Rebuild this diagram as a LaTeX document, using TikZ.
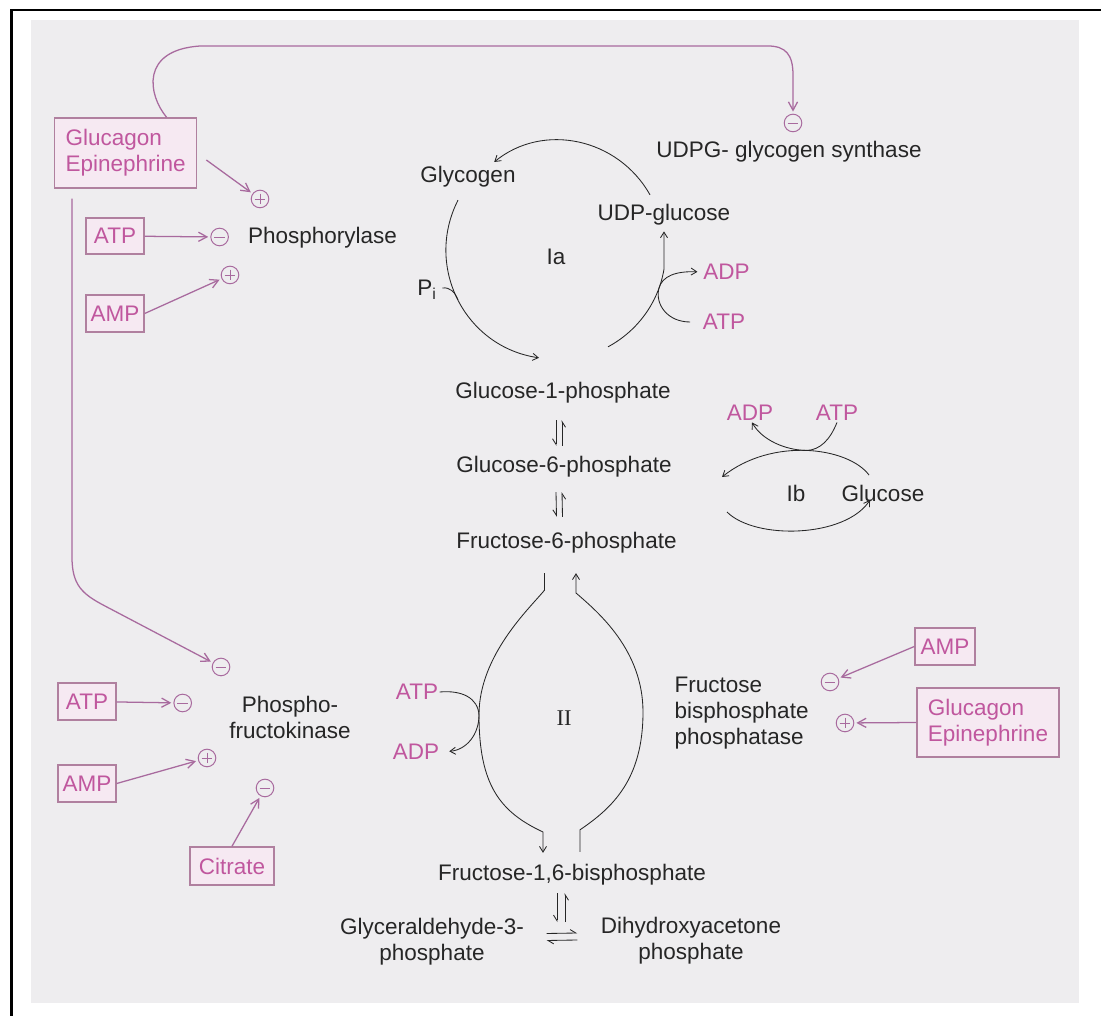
\documentclass[tikz,border=0pt]{standalone}
\usepackage{fontspec}
\setmainfont{Liberation Sans}
\newfontfamily\romfont{Liberation Serif}
\usetikzlibrary{arrows.meta, calc}
\definecolor{paper}{HTML}{EEEDEF}
\definecolor{ink}{HTML}{262626}
\definecolor{rose}{HTML}{C0579E}
\definecolor{roseline}{HTML}{A86A9E}
\definecolor{boxedge}{HTML}{B0809F}
\definecolor{boxfill}{HTML}{F6E9F2}
\tikzset{
  every node/.append style={font=\fontsize{16}{18.5}\selectfont, text=ink},
  metab/.style={inner sep=1pt, align=center},
  cofac/.style={inner sep=1pt, text=rose},
  effector/.style={draw=boxedge, fill=boxfill, line width=1pt, text=rose, align=left, inner sep=0pt},
  regsign/.style={circle, draw=roseline, line width=0.7pt, minimum size=0.44cm, inner sep=0pt},
  regpos/.style={regsign, path picture={\draw[roseline, line width=0.6pt]
    ([xshift=2.4pt]path picture bounding box.west) -- ([xshift=-2.4pt]path picture bounding box.east)
    ([yshift=-2.4pt]path picture bounding box.north) -- ([yshift=2.4pt]path picture bounding box.south);}},
  regneg/.style={regsign, path picture={\draw[roseline, line width=0.6pt]
    ([xshift=2.4pt]path picture bounding box.west) -- ([xshift=-2.4pt]path picture bounding box.east);}},
  effect/.style={-{Straight Barb[length=6pt, width=6.5pt]}, line width=0.9pt, color=roseline, shorten >=1.5pt},
  flow/.style={-{Straight Barb[length=4pt, width=5pt]}, line width=0.6pt, color=ink},
  bare/.style={line width=0.6pt, color=ink},
  harpL/.style={-{Straight Barb[left, length=4pt, width=5pt]}, line width=0.6pt, color=ink},
  harpR/.style={-{Straight Barb[right, length=4pt, width=5pt]}, line width=0.6pt, color=ink},
  frame/.style={line width=1.6pt, color=black}
}
\begin{document}
\begin{tikzpicture}[x=0.025cm, y=-0.025cm]
\useasboundingbox (0,0) rectangle (1101,1016);
\fill[paper] (31,20) rectangle (1079,1003);
\draw[frame] (11.6,1016) -- (11.6,10) -- (1101,10);
\coordinate (IbEnd) at (722,477);
\coordinate (IbStart) at (727,512);

\node[effector, minimum width=3.55cm, minimum height=1.75cm] (glucA) at (125.6,153) {Glucagon\\Epinephrine};
\node[effector, minimum width=1.45cm, minimum height=0.9cm] (atpA) at (115,236) {ATP};
\node[effector, minimum width=1.45cm, minimum height=0.92cm] (ampA) at (115,313.5) {AMP};
\node[effector, minimum width=1.45cm, minimum height=0.92cm] (atpC) at (87,701.5) {ATP};
\node[effector, minimum width=1.45cm, minimum height=0.92cm] (ampC) at (87,783.5) {AMP};
\node[effector, minimum width=2.1cm, minimum height=0.95cm] (citrate) at (232,866) {Citrate};
\node[effector, minimum width=1.5cm, minimum height=0.92cm] (ampD) at (945,646.5) {AMP};
\node[effector, minimum width=3.55cm, minimum height=1.72cm] (glucB) at (988,722.5) {Glucagon\\Epinephrine};

\node[regpos] (posGl) at (260,199) {};
\node[regneg] (negAtp) at (219.6,237) {};
\node[regpos] (posAmp) at (230,275) {};
\node[regneg] (negSyn) at (793,123) {};
\node[regneg] (negPfk) at (221,667) {};
\node[regneg] (negAtp2) at (182.7,703) {};
\node[regpos] (posAmp2) at (207,758) {};
\node[regneg] (negCit) at (265,788) {};
\node[regneg] (negFbp) at (830,682) {};
\node[regpos] (posFbp) at (845,723) {};

\node[metab] (phosph) at (322.5,238) {Phosphorylase};
\node[metab] (synth) at (789,152) {UDPG- glycogen synthase};
\node[metab] (pfk) at (290,717) {Phospho-\\fructokinase};
\node[metab, anchor=west, align=left] (fbpase) at (673,713) {Fructose\\bisphosphate\\phosphatase};

\node[metab] (glycogen) at (468,177) {Glycogen};
\node[metab] (udpglc) at (664,215) {UDP-glucose};
\node[metab] (cycIa) at (556,257) {Ia};
\node[metab] (pi) at (427,290) {P\textsubscript{i}};
\node[cofac] (adpA) at (726.5,272) {ADP};
\node[cofac] (atpIa) at (724,322) {ATP};
\node[metab] (g1p) at (563,393) {Glucose-1-phosphate};
\node[metab] (g6p) at (564,467) {Glucose-6-phosphate};
\node[metab] (f6p) at (566.5,543) {Fructose-6-phosphate};
\node[cofac] (adpB) at (750,413) {ADP};
\node[cofac] (atpB) at (837,413) {ATP};
\node[metab] (cycIb) at (796,493) {Ib};
\node[metab] (glucose) at (883,493) {Glucose};
\node[metab] (cycII) at (564,718) {\romfont II};
\node[cofac] (atpII) at (417,692) {ATP};
\node[cofac] (adpII) at (416,752) {ADP};
\node[metab] (f16bp) at (572,875) {Fructose-1,6-bisphosphate};
\node[metab] (gap) at (432,941.5) {Glyceraldehyde-3-\\phosphate};
\node[metab] (dhap) at (691,941) {Dihydroxyacetone\\phosphate};

\draw[effect] ($(glucA.north)+(41,0)$) .. controls (148,95) and (140,50) .. (200,46) -- (768,46)
  .. controls (786,46) and (793,55) .. (793,75) -- (negSyn);
\draw[effect] ($(glucA.east)+(9,7)$) -- (posGl);
\draw[effect] ($(glucA.south)+(-53.6,10)$) -- (72,557) .. controls (72,585) and (82,594) .. (105,606) -- (negPfk);
\draw[effect] (atpA) -- (negAtp);
\draw[effect] (ampA.east) -- (posAmp);
\draw[effect] (atpC) -- (negAtp2);
\draw[effect] (ampC.east) -- (posAmp2);
\draw[effect] (citrate.north) -- (negCit);
\draw[effect] (ampD.west) -- (negFbp);
\draw[effect] (glucB.west) -- (posFbp);

\draw[flow] ($(udpglc.north)+(-14,-8)$) .. controls (618,138) and (543,122) .. ($(glycogen.east)+(-23,-15)$);
\draw[flow] ($(glycogen.south)+(-10,11)$) .. controls (424,267) and (465,347) .. coordinate[pos=0.5] (IaP) ($(g1p.north)+(-24,-23)$);
\draw[bare] ($(pi.east)+(4,-2)$) .. controls (450,287) and (455,292) .. (IaP);
\draw[flow, shorten >=3pt] ($(g1p.north)+(45,-34)$) .. controls (637.5,331) and (658.4,302.5) .. coordinate[pos=0.8] (IaJ) ($(udpglc.south)+(0,42)$) -- (udpglc.south);
\draw[flow, shorten >=3pt] (IaJ) .. controls (662,276) and (676,271) .. (adpA.west);
\draw[bare, shorten <=8pt] (atpIa.west) .. controls (668,322) and (655,305) .. (IaJ);

\draw[harpR] ($(g1p.south)+(-7,15)$) -- ($(g6p.north)+(-8,-9)$);
\draw[harpR] ($(g6p.north)+(-2,-9)$) -- ($(g1p.south)+(-1,15)$);
\draw[harpR] ($(g6p.south)+(-8,13)$) -- ($(f6p.north)+(-10,-14)$);
\draw[harpR] ($(f6p.north)+(-4,-14)$) -- ($(g6p.south)+(-2,13)$);

\draw[flow] (IbStart) .. controls (755,540) and (845,538) .. ($(glucose.south west)+(30,-3)$);
\draw[flow] ($(glucose.north west)+(29,-8)$) .. controls (848,447) and (772,437) .. coordinate[pos=0.5] (IbJ) (IbEnd);
\draw[bare] (atpB.south) .. controls (830,440) and (820,450) .. (IbJ);
\draw[flow] (IbJ) .. controls (785,450) and (762,440) .. ($(adpB.south)+(2,0)$);

\draw[flow] ($(f6p.south)+(-22,18)$) -- ++(0,17) .. controls (530,608) and (479,655) .. (479,715) coordinate (IIa)
  .. controls (479,785) and (500,812) .. (543,832) -- ($(f16bp.north)+(-29,-10)$);
\draw[flow] ($(f16bp.north)+(8,-11)$) -- ++(0,-22) .. controls (612,808) and (643,780) .. (643,712)
  .. controls (643,650) and (598,612) .. (576,593) -- ($(f6p.south)+(9.5,18)$);
\draw[bare] (atpII.east) .. controls (462,690) and (478,698) .. (IIa);
\draw[flow, shorten >=6pt] (IIa) .. controls (479,735) and (466,750) .. (adpII.east);

\draw[harpR] ($(f16bp.south)+(-15,6)$) -- ++(0,29);
\draw[harpR] ($(f16bp.south)+(-7,35)$) -- ++(0,-29);
\draw[harpL] ($(gap.east)+(21,-8)$) -- ($(dhap.west)+(-22,-8)$);
\draw[harpL] ($(dhap.west)+(-22,-1)$) -- ($(gap.east)+(21,-1)$);
\end{tikzpicture}
\end{document}
